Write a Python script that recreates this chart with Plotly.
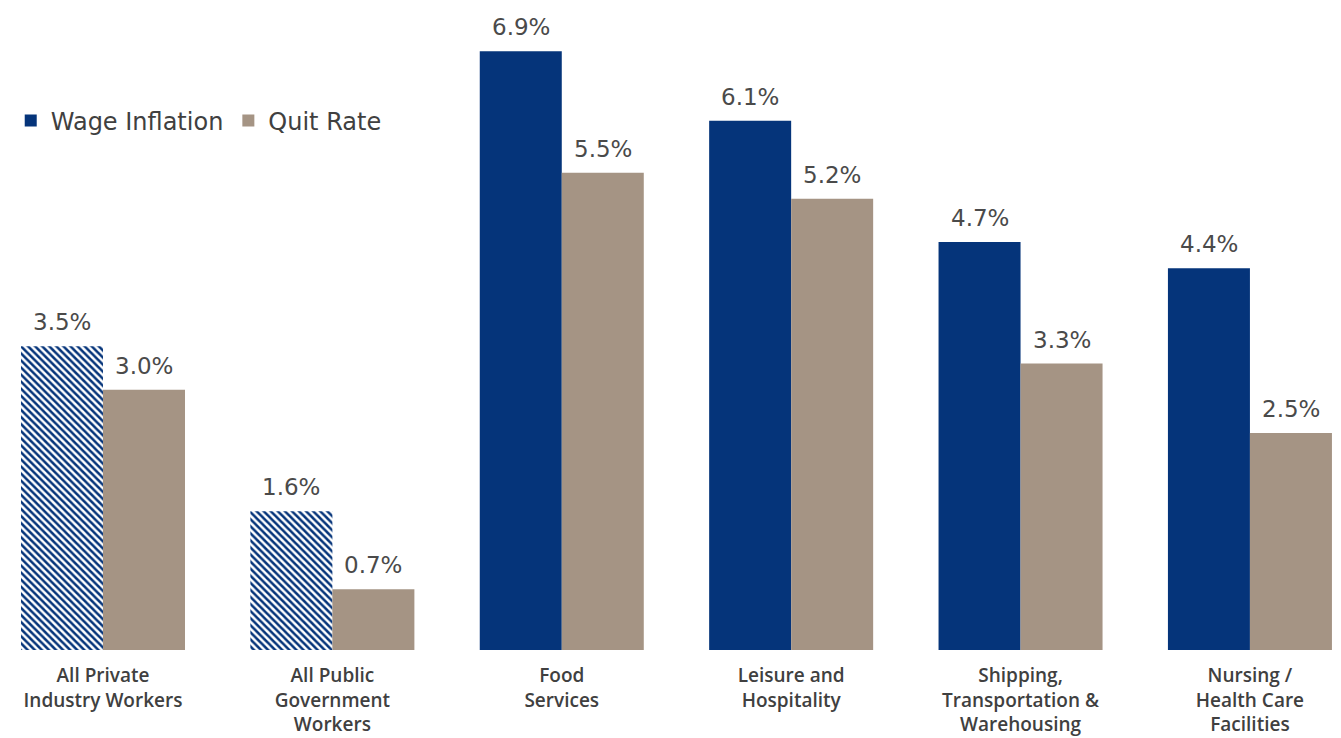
import plotly.graph_objects as go

categories = [
    "All Private<br>Industry Workers",
    "All Public<br>Government<br>Workers",
    "Food<br>Services",
    "Leisure and<br>Hospitality",
    "Shipping,<br>Transportation &<br>Warehousing",
    "Nursing /<br>Health Care<br>Facilities",
]
wage_inflation = [3.5, 1.6, 6.9, 6.1, 4.7, 4.4]
quit_rate = [3.0, 0.7, 5.5, 5.2, 3.3, 2.5]
# the first two groups (aggregate worker groups) are drawn hatched
hatched_count = 2

NAVY = "#05347A"
TAUPE = "#A59484"
TEXT = "#404040"
LABEL_FONT = dict(family="DejaVu Sans", size=23, color="#4a4a4a")

fig = go.Figure()

fig.add_trace(go.Bar(
    x=categories[:hatched_count],
    y=wage_inflation[:hatched_count],
    offsetgroup="wage",
    showlegend=False,
    marker=dict(
        color="white",
        line=dict(width=0),
        pattern=dict(shape="\\", fgcolor=NAVY, fgopacity=1,
                     size=5, solidity=0.5, fillmode="overlay"),
    ),
))

fig.add_trace(go.Bar(
    x=categories[hatched_count:],
    y=wage_inflation[hatched_count:],
    name="Wage Inflation",
    offsetgroup="wage",
    marker=dict(color=NAVY, line=dict(width=0)),
))

fig.add_trace(go.Bar(
    x=categories,
    y=quit_rate,
    name="Quit Rate",
    offsetgroup="quit",
    marker=dict(color=TAUPE, line=dict(width=0)),
))

# value labels above each bar, shifted onto the left (wage) / right (quit) bar
for cat, w, q in zip(categories, wage_inflation, quit_rate):
    for val, dx in ((w, -41), (q, 41)):
        fig.add_annotation(
            x=cat, y=val, xref="x", yref="y",
            text=f"{val:.1f}%",
            showarrow=False,
            xshift=dx, yshift=9,
            yanchor="bottom", xanchor="center",
            font=LABEL_FONT,
        )

fig.update_layout(
    width=1341,
    height=738,
    margin=dict(l=0, r=0, t=0, b=88, autoexpand=False),
    paper_bgcolor="white",
    plot_bgcolor="white",
    barmode="group",
    bargap=0.285,
    bargroupgap=0,
    legend=dict(
        orientation="h",
        x=0.008, y=0.814,
        xanchor="left", yanchor="middle",
        font=dict(family="DejaVu Sans", size=24, color=TEXT),
        traceorder="normal",
        bgcolor="rgba(0,0,0,0)",
        itemwidth=30,
    ),
    xaxis=dict(
        categoryorder="array",
        categoryarray=categories,
        range=[-0.449, 5.397],
        showline=False,
        showgrid=False,
        ticks="",
        automargin=False,
        tickfont=dict(family="Open Sans", size=19, color=TEXT, weight=600),
        ticklabelstandoff=12,
    ),
    yaxis=dict(
        range=[0, 7.49],
        visible=False,
        showgrid=False,
        zeroline=False,
        automargin=False,
    ),
)

fig.write_html("out.html")
